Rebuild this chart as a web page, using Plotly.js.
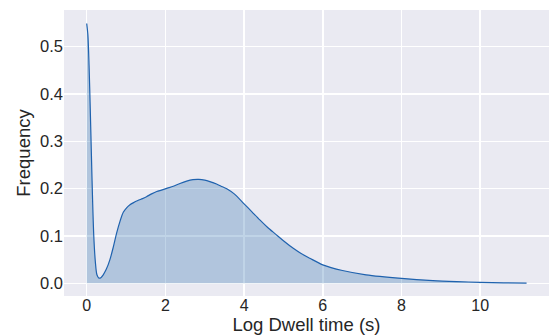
<!DOCTYPE html>
<html>
<head>
<meta charset="utf-8">
<script src="https://cdn.plot.ly/plotly-3.0.1.min.js"></script>
<style>html,body{margin:0;padding:0;background:#fff;}#chart{width:549px;height:335px;}</style>
</head>
<body>
<div id="chart"></div>
<script>
var logDwell = [0, 0.03, 0.06, 0.09, 0.12, 0.15, 0.18, 0.22, 0.26, 0.31, 0.36, 0.42, 0.5, 0.59, 0.68, 0.76, 0.85, 0.93, 1.02, 1.1, 1.18, 1.3, 1.42, 1.52, 1.65, 1.78, 1.9, 2.05, 2.2, 2.37, 2.54, 2.7, 2.85, 3.0, 3.13, 3.3, 3.45, 3.56, 3.75, 4.0, 4.2, 4.4, 4.6, 4.8, 5.0, 5.25, 5.45, 5.67, 6.0, 6.5, 7.1, 8.0, 8.8, 9.4, 10.0, 10.6, 11.18];
var frequency = [0.549, 0.525, 0.46, 0.37, 0.27, 0.175, 0.10, 0.045, 0.018, 0.011, 0.012, 0.018, 0.03, 0.05, 0.078, 0.106, 0.132, 0.15, 0.16, 0.166, 0.17, 0.175, 0.179, 0.183, 0.189, 0.194, 0.197, 0.201, 0.205, 0.211, 0.216, 0.219, 0.2195, 0.218, 0.215, 0.21, 0.204, 0.2, 0.189, 0.168, 0.151, 0.134, 0.118, 0.104, 0.09, 0.074, 0.063, 0.053, 0.039, 0.027, 0.018, 0.0105, 0.0058, 0.0036, 0.002, 0.0009, 0.0003];
var xTicks = [0, 2, 4, 6, 8, 10];
var yTicks = [0.0, 0.1, 0.2, 0.3, 0.4, 0.5];
var yTickText = ['0.0', '0.1', '0.2', '0.3', '0.4', '0.5'];

var trace = {
  x: logDwell,
  y: frequency,
  type: 'scatter',
  mode: 'lines',
  line: {color: '#1f62ae', width: 1.2, shape: 'spline', smoothing: 0.8},
  fill: 'tozeroy',
  fillcolor: 'rgba(30,100,170,0.28)',
  hoverinfo: 'skip'
};

var fam = 'Liberation Sans, Arial, sans-serif';

var layout = {
  width: 549,
  height: 335,
  margin: {l: 64, r: 0, t: 10, b: 39},
  paper_bgcolor: '#ffffff',
  plot_bgcolor: '#eaeaf2',
  showlegend: false,
  font: {family: fam, color: '#262626'},
  xaxis: {
    range: [-0.577, 11.75],
    tickvals: xTicks,
    ticktext: xTicks.map(String),
    showgrid: true,
    gridcolor: '#ffffff',
    gridwidth: 1.5,
    zeroline: false,
    showline: false,
    ticks: '',
    ticklabelstandoff: -2,
    tickfont: {family: fam, size: 16, color: '#262626'},
    title: {text: 'Log Dwell time (s)', font: {family: fam, size: 18.5, color: '#262626'}}
  },
  yaxis: {
    range: [-0.0268, 0.5775],
    tickvals: yTicks,
    ticktext: yTickText,
    showgrid: true,
    gridcolor: '#ffffff',
    gridwidth: 1.5,
    zeroline: false,
    showline: false,
    ticks: '',
    tickfont: {family: fam, size: 16.5, color: '#262626'},
    title: {text: 'Frequency', font: {family: fam, size: 18.5, color: '#262626'}, standoff: 4}
  }
};

Plotly.newPlot('chart', [trace], layout, {staticPlot: true, displayModeBar: false});
</script>
</body>
</html>
